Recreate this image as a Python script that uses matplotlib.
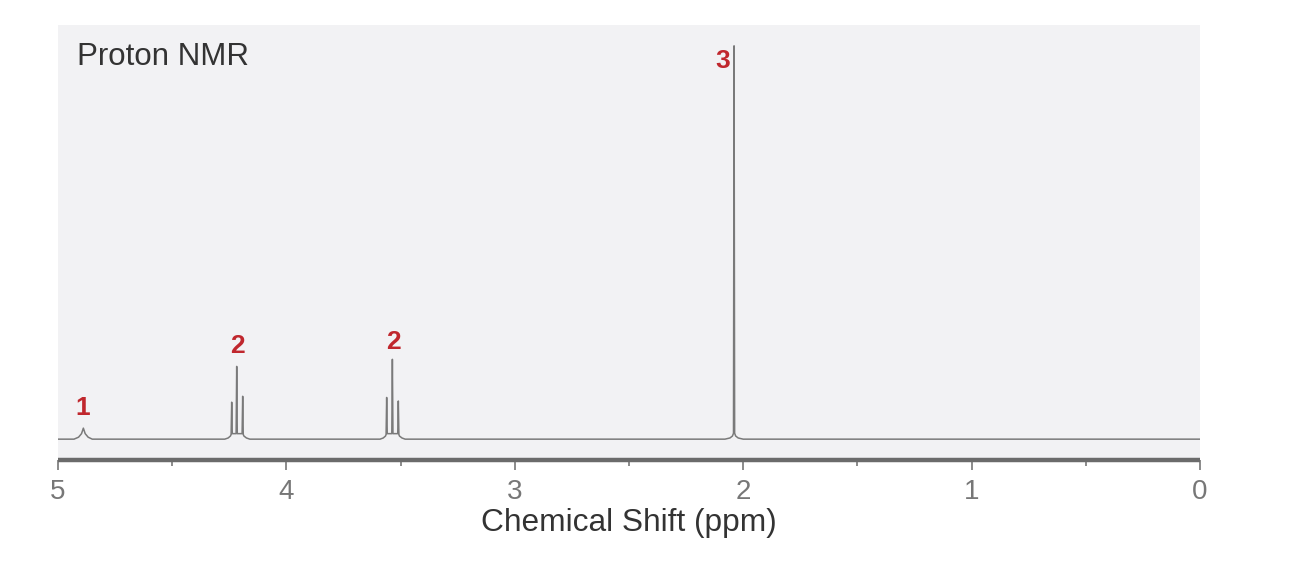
import matplotlib
matplotlib.use("Agg")
import matplotlib.pyplot as plt
from matplotlib.ticker import MultipleLocator

plt.rcParams['font.family'] = ['Liberation Sans', 'DejaVu Sans']

# spectrum trace (ppm, intensity with tallest peak = 100)
trace_ppm = [5.00, 4.93, 4.91, 4.897, 4.889, 4.881, 4.868, 4.85,
             4.27, 4.255, 4.245, 4.2420, 4.2395, 4.2370, 4.2201, 4.2176, 4.2151,
             4.1939, 4.1914, 4.1889, 4.186, 4.175, 4.16,
             3.59, 3.576, 3.566, 3.5635, 3.561, 3.5585, 3.5385, 3.536, 3.5335,
             3.5125, 3.510, 3.5075, 3.505, 3.494, 3.48,
             2.08, 2.058, 2.047, 2.0425, 2.040, 2.0375, 2.033, 2.022, 2.00, 0.00]
trace_int = [0, 0, 0.5, 1.4, 2.8, 1.4, 0.5, 0,
             0, 0.3, 0.8, 1.2, 9.4, 1.4, 1.4, 18.5, 1.4,
             1.4, 10.9, 1.2, 0.8, 0.3, 0,
             0, 0.3, 0.8, 1.2, 10.6, 1.4, 1.4, 20.3, 1.4,
             1.4, 9.7, 1.2, 0.8, 0.3, 0,
             0, 0.3, 0.8, 1.5, 100, 1.5, 0.8, 0.3, 0, 0]

# integration labels above each signal
label_text = ['1', '2', '2', '3']
label_ppm = [4.89, 4.216, 3.53, 2.088]
label_int = [7.8, 23.8, 24.6, 96.2]

xticks = [5, 4, 3, 2, 1, 0]

fig = plt.figure(figsize=(13.02, 5.65), dpi=100)
ax = fig.add_axes([58 / 1302, 1 - 460 / 565, 1142 / 1302, 435 / 565])
ax.set_facecolor('#f2f2f4')

ax.plot(trace_ppm, trace_int, color='#7a7a7a', lw=1.1)

for t, x, y in zip(label_text, label_ppm, label_int):
    ax.text(x, y, t, color='#c0272d', fontsize=19, fontweight='bold',
            ha='center', va='center')

ax.text(0.0166, 0.962, 'Proton NMR', transform=ax.transAxes, fontsize=22.5,
        color='#333333', ha='left', va='top')

ax.set_xlim(5, 0)
ax.set_ylim(-5.3, 105.3)
ax.set_xticks(xticks)
ax.set_xticklabels([str(v) for v in xticks])
ax.xaxis.set_minor_locator(MultipleLocator(0.5))
ax.set_yticks([])

for s in ['top', 'right', 'left']:
    ax.spines[s].set_visible(False)
ax.spines['bottom'].set_color('#6b6b6b')
ax.spines['bottom'].set_linewidth(3.2)
ax.spines['bottom'].set_capstyle('butt')

ax.tick_params(axis='x', which='major', length=7, width=1.1, color='#6b6b6b',
               labelsize=20, labelcolor='#777777', pad=6.5)
ax.tick_params(axis='x', which='minor', length=4.5, width=1.1, color='#6b6b6b')

ax.set_xlabel('Chemical Shift (ppm)', fontsize=22.8, color='#333333', labelpad=2)

fig.savefig('out.png', dpi=100)
